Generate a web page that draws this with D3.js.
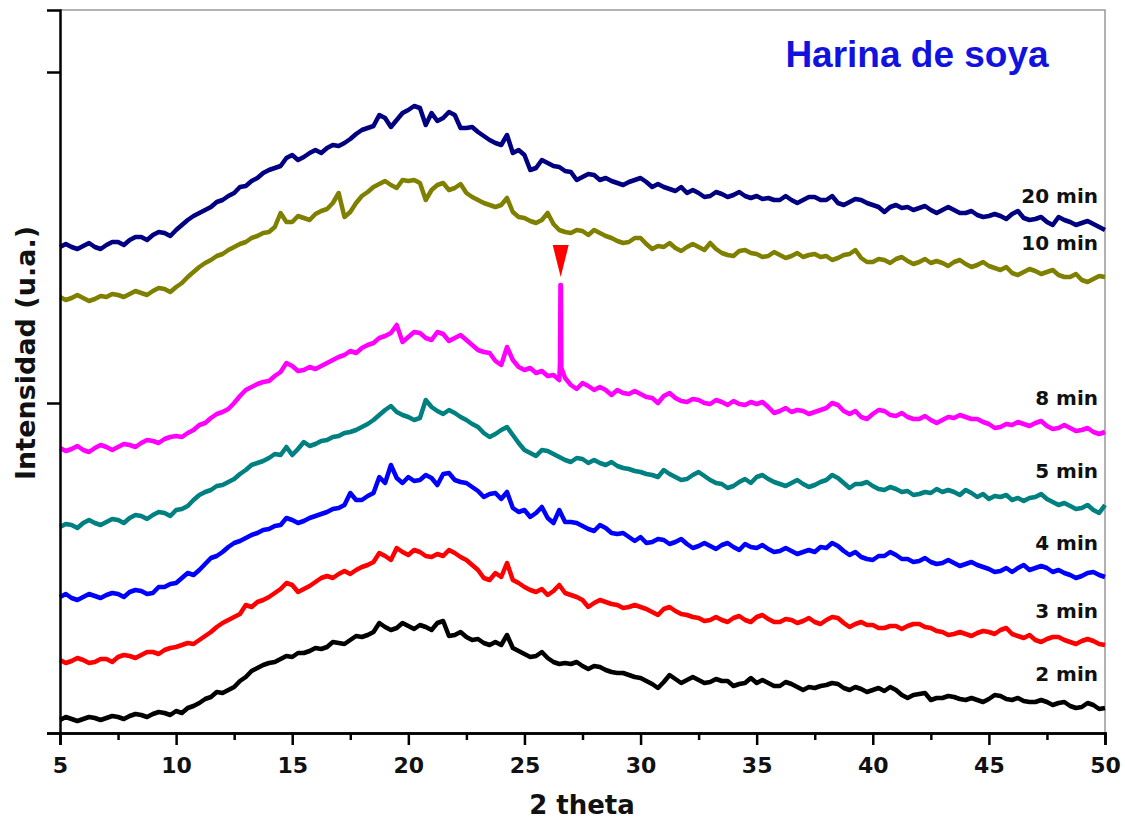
<!DOCTYPE html>
<html>
<head>
<meta charset="utf-8">
<script src="https://cdn.jsdelivr.net/npm/d3@7"></script>
<style>
  body { margin: 0; background: #fff; }
  svg { display: block; }
  .axis text { font-family: "DejaVu Sans", Verdana, sans-serif; font-weight: bold; font-size: 22px; fill: #111; }
  .lbl { font-family: "DejaVu Sans", Verdana, sans-serif; font-weight: bold; fill: #111; }
</style>
</head>
<body>
<svg id="chart"></svg>
<script>
// 2 theta grid: 5 .. 50 in steps of 0.25 (181 points per pattern)
var thetaStart = 5, thetaStep = 0.25;

var labels = ["2 min", "3 min", "4 min", "5 min", "8 min", "10 min", "20 min"];
var colors = ["#000000", "#ff0000", "#0000ff", "#008080", "#ff00ff", "#808000", "#000080"];

// intensities (a.u.), one row = 5 degrees
var min2 = [
  13,16,14,12,14,16,15,13,15,17,16,14,17,19,18,16,19,21,20,18,
  22,20,25,27,30,34,36,41,40,43,46,52,56,62,65,68,70,71,74,77,
  76,80,80,82,85,84,86,91,90,89,93,97,96,98,101,110,106,103,105,110,
  107,104,108,106,103,110,112,97,98,101,96,93,94,90,88,91,88,98,85,82,
  79,76,77,81,75,71,69,70,69,71,67,64,67,66,63,61,60,60,58,56,
  55,52,49,45,51,58,54,50,53,56,53,50,51,54,52,52,47,49,50,55,
  50,53,50,47,47,51,49,46,43,46,45,47,48,50,49,45,43,46,44,41,
  43,45,42,46,43,38,35,38,39,40,33,35,35,37,36,34,33,35,33,31,
  34,38,37,34,33,35,32,31,31,33,31,28,30,31,27,25,26,30,28,24,
  25];
var min3 = [
  73,70,72,75,73,70,71,74,74,71,76,78,77,75,78,81,81,79,83,85,
  86,88,90,89,93,97,101,106,110,113,116,119,128,126,131,133,136,140,144,150,
  148,141,144,147,151,155,157,155,159,162,159,163,166,168,171,180,177,173,185,181,
  178,183,181,177,176,179,177,183,180,176,173,168,163,155,153,160,156,170,153,150,
  146,143,141,144,138,142,148,140,138,136,133,126,130,133,131,129,128,125,126,128,
  126,124,121,118,124,126,122,119,118,116,115,112,113,116,113,111,115,117,113,111,
  116,118,114,111,111,114,113,110,112,115,111,109,113,116,115,110,106,109,111,108,
  108,105,105,107,107,104,107,109,109,106,105,102,101,98,99,101,99,97,100,102,
  101,99,103,105,99,97,95,98,93,91,94,96,96,93,91,89,92,94,92,89,
  88];
var min4 = [
  136,139,135,133,136,139,137,135,138,140,139,136,141,143,142,139,140,146,146,149,
  150,155,160,158,163,169,175,177,181,186,190,192,195,198,200,203,204,207,208,215,
  213,210,212,215,217,219,221,224,225,228,240,233,233,237,240,256,250,268,255,250,
  256,252,253,258,255,248,259,260,253,251,250,246,242,236,239,240,234,241,225,221,
  223,216,220,226,215,210,223,211,211,210,207,204,202,208,205,200,199,200,196,192,
  196,190,191,194,193,189,191,194,189,185,187,190,187,184,188,190,186,183,189,186,
  185,188,184,181,182,185,182,179,181,183,181,186,185,190,187,182,178,181,176,174,
  173,177,177,181,178,174,174,171,172,175,171,169,170,173,170,167,169,171,168,166,
  164,161,162,165,161,165,168,163,165,167,165,161,163,160,158,155,157,160,161,158,
  156];
var min5 = [
  206,209,208,205,210,213,210,208,211,214,213,210,215,218,217,214,218,221,220,217,
  223,224,227,233,238,241,243,247,248,251,254,259,263,268,270,272,275,279,278,286,
  278,284,291,287,289,292,293,296,297,300,301,303,306,309,313,318,323,327,321,318,
  316,313,315,333,326,322,319,323,320,316,313,309,306,300,296,299,303,306,298,290,
  283,280,277,283,282,279,276,273,271,275,274,270,273,270,268,271,267,265,264,262,
  261,259,258,256,263,259,256,253,254,258,261,257,253,250,249,245,247,251,254,250,
  256,258,254,251,249,247,250,253,249,246,248,251,253,258,255,250,245,249,249,251,
  247,244,243,246,244,241,242,238,239,241,240,244,241,243,241,238,243,240,236,239,
  234,237,236,238,233,235,232,235,236,239,234,231,228,230,227,224,225,228,223,220,
  228];
var min8 = [
  285,282,284,287,283,281,285,288,286,283,286,289,288,286,290,293,292,290,294,296,
  297,296,300,303,308,310,315,319,321,324,330,337,343,346,349,351,352,357,361,370,
  367,362,363,366,364,367,370,373,376,378,382,380,385,388,390,395,397,400,408,391,
  396,401,400,395,393,401,399,392,395,398,393,388,383,381,380,372,368,386,373,366,
  363,365,360,362,357,358,353,355,348,344,350,347,343,346,343,338,343,340,339,342,
  339,336,335,330,337,340,335,332,331,334,333,330,329,333,331,328,332,329,328,331,
  329,331,326,320,322,325,321,323,322,319,321,323,325,330,328,322,319,322,316,314,
  319,323,322,318,317,320,316,314,314,317,313,310,313,316,315,318,316,314,314,311,
  309,305,306,309,308,311,309,307,310,312,307,304,305,308,305,302,303,305,301,299,
  301];
// sharp reflection in the 8 min pattern
var spike8Theta = [26.53, 26.55, 26.57, 26.59];
var spike8Int = [370, 448, 448, 365];
var min10 = [
  436,433,435,438,435,432,434,437,436,439,438,436,439,442,440,438,442,445,444,441,
  446,450,456,461,466,470,473,477,479,483,486,489,491,495,497,500,501,506,520,511,
  511,517,515,513,519,522,524,530,540,516,521,530,537,541,546,549,552,548,545,553,
  552,553,550,533,543,548,550,543,545,549,540,536,533,530,528,526,528,535,521,516,
  515,512,510,513,520,509,503,501,500,503,502,498,503,500,497,495,492,490,491,495,
  495,489,484,487,486,490,485,482,486,489,486,483,490,484,480,478,477,482,483,480,
  479,476,477,481,478,475,477,480,476,478,479,476,477,473,475,478,479,483,475,471,
  471,474,473,470,474,476,472,469,471,474,470,472,470,467,471,473,469,466,468,471,
  467,465,463,466,460,458,461,464,462,459,461,463,458,456,456,459,453,451,454,457,
  456];
var min20 = [
  486,489,486,484,487,490,486,484,488,491,491,488,493,496,496,493,498,501,500,497,
  503,508,513,517,520,523,526,531,533,537,540,546,547,552,555,560,563,565,567,575,
  578,573,576,580,583,580,585,588,587,590,594,599,603,605,607,618,615,606,613,620,
  623,627,625,608,620,612,615,621,618,605,605,606,601,597,593,590,588,598,580,583,
  578,563,565,573,570,567,566,562,561,553,556,559,558,553,555,552,550,548,551,553,
  555,551,546,549,546,544,542,546,540,543,540,536,537,541,539,536,538,541,537,535,
  537,534,535,533,533,537,533,530,533,536,536,533,533,537,530,528,531,534,533,530,
  528,526,521,526,528,525,526,523,525,527,523,520,523,526,523,520,520,522,518,516,
  517,519,517,514,519,522,515,513,514,516,511,508,516,513,511,508,510,512,509,506,
  503];

var xTicks = [5, 10, 15, 20, 25, 30, 35, 40, 45, 50];
var xMinorTicks = [7.5, 12.5, 17.5, 22.5, 27.5, 32.5, 37.5, 42.5, 47.5];
var yTicks = [0, 330, 661];

var width = 1125, height = 822;
var margin = {top: 10, right: 20, bottom: 89, left: 60};

var svg = d3.select("#chart").attr("width", width).attr("height", height);

var x = d3.scaleLinear().domain([5, 50]).range([margin.left, width - margin.right]);
var y = d3.scaleLinear().domain([0, 723]).range([height - margin.bottom, margin.top]);

function toPoints(arr) {
  return arr.map(function(v, i) { return [thetaStart + i * thetaStep, v]; });
}

var p8 = toPoints(min8).concat(spike8Theta.map(function(t, i) { return [t, spike8Int[i]]; }));
p8.sort(function(a, b) { return a[0] - b[0]; });

var series = [toPoints(min2), toPoints(min3), toPoints(min4), toPoints(min5), p8, toPoints(min10), toPoints(min20)];

// frame (top and right in grey)
svg.append("path")
  .attr("d", "M" + x(5) + "," + y(723) + "H" + x(50) + "V" + y(0))
  .attr("fill", "none").attr("stroke", "#999").attr("stroke-width", 1.5);

var line = d3.line().x(function(d) { return x(d[0]); }).y(function(d) { return y(d[1]); });

svg.selectAll(".pattern")
  .data(series)
  .enter().append("path")
    .attr("class", "pattern")
    .attr("d", line)
    .attr("fill", "none")
    .attr("stroke", function(d, i) { return colors[i]; })
    .attr("stroke-width", 4.5)
    .attr("stroke-linejoin", "round");

// axes
svg.append("g").attr("class", "axis")
  .attr("transform", "translate(0," + y(0) + ")")
  .call(d3.axisBottom(x).tickValues(xTicks).tickSize(12).tickPadding(12).tickFormat(d3.format("d")));
svg.append("g").attr("class", "axis")
  .attr("transform", "translate(0," + y(0) + ")")
  .call(d3.axisBottom(x).tickValues(xMinorTicks).tickSize(7).tickFormat(""));
svg.append("g").attr("class", "axis")
  .attr("transform", "translate(" + x(5) + ",0)")
  .call(d3.axisLeft(y).tickValues(yTicks).tickSize(13).tickFormat(""));

svg.selectAll(".axis path.domain").attr("stroke", "#000").attr("stroke-width", 2.5);
svg.selectAll(".axis line").attr("stroke", "#000").attr("stroke-width", 2.5);

// pattern labels at the right end
svg.selectAll(".plabel")
  .data(series)
  .enter().append("text")
    .attr("class", "lbl")
    .attr("x", 1098)
    .attr("y", function(d) { return y(d[d.length - 1][1]) - 34; })
    .attr("dy", "0.35em")
    .attr("text-anchor", "end")
    .style("font-size", "20px")
    .text(function(d, i) { return labels[i]; });

// marker over the sharp peak
var peakX = x(d3.mean(spike8Theta)), peakY = y(d3.max(spike8Int)) - 8;
svg.append("path")
  .attr("d", "M" + peakX + "," + peakY + "L" + (peakX - 8) + "," + (peakY - 32) + "L" + (peakX + 8) + "," + (peakY - 32) + "Z")
  .attr("fill", "#ff0000");

// axis titles
svg.append("text").attr("class", "lbl")
  .attr("x", 582).attr("y", 814)
  .attr("text-anchor", "middle").style("font-size", "26px")
  .text("2 theta");

svg.append("text").attr("class", "lbl")
  .attr("transform", "translate(35,353) rotate(-90)")
  .attr("text-anchor", "middle").style("font-size", "27px")
  .text("Intensidad (u.a.)");

svg.append("text")
  .attr("x", 917).attr("y", 67)
  .attr("text-anchor", "middle")
  .style("font-family", "'Liberation Sans', Arial, sans-serif")
  .style("font-weight", "bold").style("font-size", "37px")
  .attr("fill", "#1212e0")
  .text("Harina de soya");
</script>
</body>
</html>
